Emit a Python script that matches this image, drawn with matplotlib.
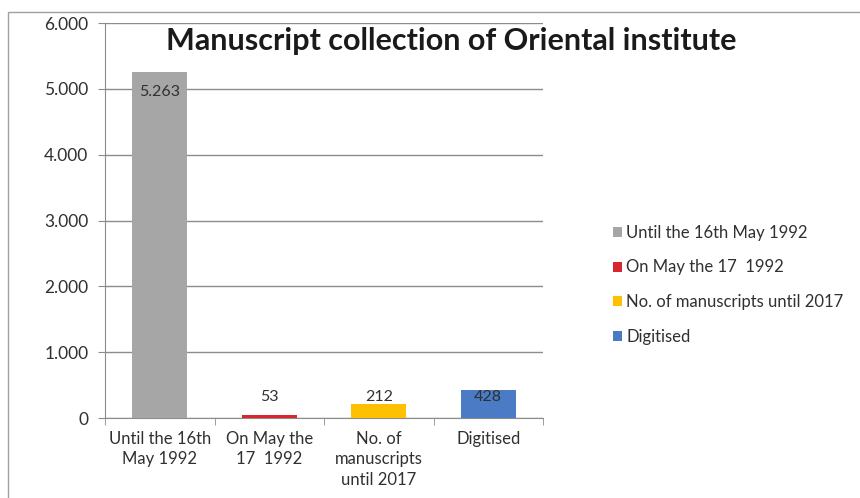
import matplotlib
matplotlib.use('Agg')
import matplotlib.pyplot as plt
from matplotlib.patches import Rectangle
from matplotlib.ticker import FuncFormatter, FixedLocator

# ---------------------------------------------------------------------------
# Data
# ---------------------------------------------------------------------------

categories = ['Until the 16th May 1992', 'On May the 17  1992',
              'No. of manuscripts until 2017', 'Digitised']
tick_labels = ['Until the 16th\nMay 1992', 'On May the\n17  1992',
               'No. of\nmanuscripts\nuntil 2017', 'Digitised']
values = [5263, 53, 212, 428]
value_labels = ['5.263', '53', '212', '428']
colors = ['#A6A6A6', '#D7262E', '#FFC000', '#4A7BC4']

plt.rcParams['font.family'] = ['Lato', 'DejaVu Sans']

fig = plt.figure(figsize=(8.6, 4.98), dpi=100)
ax = fig.add_axes([0.1221, 0.1606, 0.5093, 0.7932])

# outer chart frame (right and bottom edges fall outside the picture)
fig.patches.append(Rectangle((8 / 860, -0.1), 1.2, 1 - 12 / 498 + 0.1,
                             transform=fig.transFigure, fill=False,
                             edgecolor='#A0A0A0', lw=1.0))

x = range(len(values))
bars = ax.bar(x, values, width=0.5, color=colors, label=categories, zorder=3)

for xi, v, lbl in zip(x, values, value_labels):
    ax.text(xi, max(v - 310, 320), lbl, ha='center', va='center',
            fontsize=11.5, color='#303030', zorder=4)

ax.set_xlim(-0.5, 3.5)
ax.set_ylim(0, 6000)
ax.set_yticks(range(0, 6001, 1000))
ax.yaxis.set_major_formatter(FuncFormatter(
    lambda v, _: f'{int(v):,}'.replace(',', '.')))
ax.grid(axis='y', color='#8C8C8C', lw=1.0, zorder=0)

ax.set_xticks(list(x))
ax.set_xticklabels(tick_labels, fontsize=12, color='#303030', linespacing=1.35)
ax.xaxis.set_minor_locator(FixedLocator([-0.5, 0.5, 1.5, 2.5, 3.5]))
ax.tick_params(axis='x', which='major', length=0, pad=9)
ax.tick_params(axis='x', which='minor', length=5, color='#8C8C8C')
ax.tick_params(axis='y', length=5, color='#8C8C8C', labelsize=12.5,
               labelcolor='#303030', pad=7)

for s in ['top', 'right']:
    ax.spines[s].set_visible(False)
for s in ['left', 'bottom']:
    ax.spines[s].set_color('#8C8C8C')

fig.text(0.525, 0.918, 'Manuscript collection of Oriental institute',
         ha='center', va='center', fontsize=22, fontweight='bold',
         color='#1A1A1A')

ax.legend(handles=bars, labels=categories, loc='center left',
          bbox_to_anchor=(0.695, 0.428), bbox_transform=fig.transFigure,
          frameon=False, fontsize=12, handlelength=0.55, handleheight=0.55,
          handletextpad=0.25, labelspacing=1.13, labelcolor='#303030')

fig.savefig('out.png', dpi=100)
